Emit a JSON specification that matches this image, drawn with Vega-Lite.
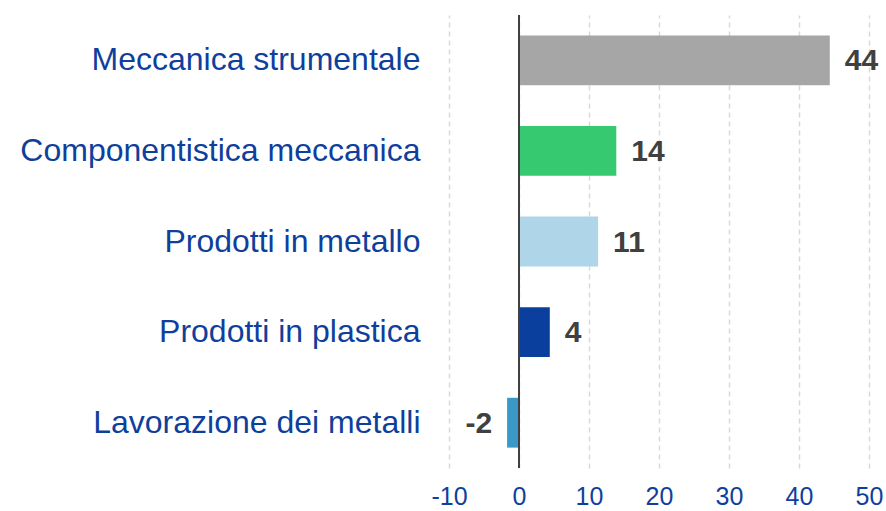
{
  "$schema": "https://vega.github.io/schema/vega-lite/v6.json",
  "width": 420,
  "height": 453,
  "autosize": {"type": "none"},
  "padding": {"left": 449, "top": 15, "right": 17, "bottom": 43},
  "background": "white",
  "config": {"view": {"stroke": null}, "font": "Liberation Sans"},
  "data": {
    "values": [
      {"cat": "Meccanica strumentale", "value": 44.4, "label": "44", "color": "#a6a6a6"},
      {"cat": "Componentistica meccanica", "value": 13.9, "label": "14", "color": "#36c96f"},
      {"cat": "Prodotti in metallo", "value": 11.3, "label": "11", "color": "#aed6e8"},
      {"cat": "Prodotti in plastica", "value": 4.4, "label": "4", "color": "#0b3f9e"},
      {"cat": "Lavorazione dei metalli", "value": -1.7, "label": "-2", "color": "#3a98c9"}
    ]
  },
  "encoding": {
    "y": {
      "field": "cat", "type": "nominal", "sort": null,
      "scale": {"paddingInner": 0.45, "paddingOuter": 0.225},
      "axis": {"title": null, "domain": false, "ticks": false, "labelPadding": 29, "labelFontSize": 32, "labelColor": "#0f3f9c", "labelFont": "Liberation Sans", "labelLimit": 600}
    }
  },
  "layer": [
    {
      "mark": {"type": "bar"},
      "encoding": {
        "x": {
          "field": "value", "type": "quantitative",
          "scale": {"domain": [-10, 50], "nice": false},
          "axis": {"title": null, "values": [-10, 0, 10, 20, 30, 40, 50], "labelExpr": "replace(datum.label, '−', '-')", "domain": false, "ticks": false, "labelPadding": 16, "labelFontSize": 25, "labelColor": "#0f3f9c", "grid": true, "gridDash": [5, 4], "gridColor": "#d9d9d9", "gridWidth": 1.5, "labelFlush": false}
        },
        "color": {"field": "color", "type": "nominal", "scale": null}
      }
    },
    {
      "mark": {"type": "rule", "color": "#404040", "strokeWidth": 2},
      "encoding": {"x": {"datum": 0, "type": "quantitative"}, "y": {"value": 0}, "y2": {"value": 453}}
    },
    {
      "transform": [{"filter": "datum.value >= 0"}],
      "mark": {"type": "text", "align": "left", "dx": 15, "dy": 1, "fontSize": 30, "fontWeight": "bold", "color": "#404040"},
      "encoding": {"x": {"field": "value", "type": "quantitative"}, "text": {"field": "label"}}
    },
    {
      "transform": [{"filter": "datum.value < 0"}],
      "mark": {"type": "text", "align": "right", "dx": -15, "dy": 1, "fontSize": 30, "fontWeight": "bold", "color": "#404040"},
      "encoding": {"x": {"field": "value", "type": "quantitative"}, "text": {"field": "label"}}
    }
  ]
}
